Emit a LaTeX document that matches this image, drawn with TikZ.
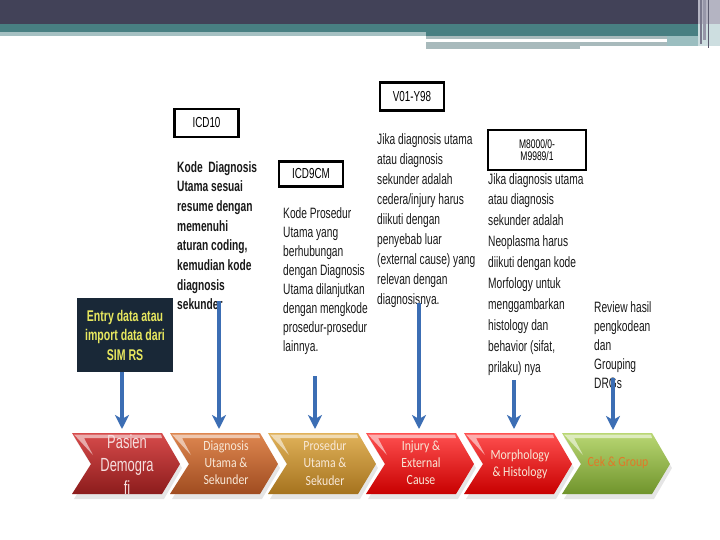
\documentclass[tikz,border=0pt]{standalone}
\usepackage{fontspec}
\setmainfont{Liberation Sans}
\newfontfamily\nar[FakeStretch=0.68]{Liberation Sans}
\newfontfamily\carl[FakeStretch=0.84]{Carlito}
\usetikzlibrary{arrows.meta}
\definecolor{hdark}{RGB}{66,66,88}
\definecolor{hteal}{RGB}{72,127,130}
\definecolor{hlight}{RGB}{165,192,194}
\definecolor{hgray}{RGB}{168,186,188}
\definecolor{hpale}{RGB}{155,190,192}
\definecolor{hr1}{RGB}{180,180,194}
\definecolor{hr2}{RGB}{205,222,224}
\definecolor{hr3}{RGB}{120,120,140}
\definecolor{hr4}{RGB}{150,150,168}
\definecolor{hr5}{RGB}{90,90,110}
\definecolor{arrowblue}{RGB}{60,110,180}
\definecolor{entryfill}{RGB}{25,40,55}
\definecolor{entrytext}{RGB}{232,232,95}
\definecolor{txt}{RGB}{25,25,25}
\definecolor{cAt}{RGB}{215,75,75}\definecolor{cAm}{RGB}{180,38,40}\definecolor{cAb}{RGB}{140,28,28}
\definecolor{cBt}{RGB}{222,135,80}\definecolor{cBm}{RGB}{196,98,46}\definecolor{cBb}{RGB}{160,76,32}
\definecolor{cCt}{RGB}{225,178,90}\definecolor{cCm}{RGB}{200,145,46}\definecolor{cCb}{RGB}{165,115,30}
\definecolor{cDt}{RGB}{255,80,80}\definecolor{cDm}{RGB}{240,10,10}\definecolor{cDb}{RGB}{200,0,0}
\definecolor{cFt}{RGB}{185,215,115}\definecolor{cFm}{RGB}{141,180,60}\definecolor{cFb}{RGB}{112,148,44}
\definecolor{chtxt}{RGB}{248,232,215}
\definecolor{chtxtA}{RGB}{245,222,222}
\definecolor{cekorange}{RGB}{225,120,40}
\tikzset{
  desc/.style={anchor=north west, inner sep=0pt, align=left, text=txt},
  codebox/.style={draw=black, line width=2.3pt, fill=white, inner sep=0pt, align=center,
    font=\nar\fontsize{14.5}{13}\selectfont},
  chtext/.style={align=center, inner sep=0pt, text=chtxt, font=\carl\fontsize{14}{17.2}\selectfont},
  arr/.style={draw=arrowblue, line width=3.2pt, -{Stealth[length=14pt,width=14pt,inset=4pt]}},
}
\begin{document}
\begin{tikzpicture}[x=1pt,y=-1pt]
\useasboundingbox (0,0) rectangle (720,540);
\fill[white] (0,0) rectangle (720,540);
% header
\fill[hdark] (0,0) rectangle (698,24);
\fill[hteal] (0,24) rectangle (698,32);
\fill[hteal] (426,32) rectangle (698,36);
\fill[hlight] (0,32) rectangle (426,36);
\fill[hgray] (426,36) rectangle (667,39);
\fill[hgray] (426,42) rectangle (580,49);
\fill[hgray] (580,42) rectangle (667,46);
\fill[hpale] (667,36) rectangle (698,46);
\fill[hr1] (698,0) rectangle (720,24);
\fill[hr2] (698,24) rectangle (720,46);
\fill[hr3] (700,0) rectangle (702,44);
\fill[hr4] (703,0) rectangle (706,40);
\fill[hr5] (708,0) rectangle (709,48);

% chevrons
\foreach \i/\ct/\cm/\cb in {0/cAt/cAm/cAb,1/cBt/cBm/cBb,2/cCt/cCm/cCb,3/cDt/cDm/cDb,4/cDt/cDm/cDb,5/cFt/cFm/cFb}{
  \pgfmathsetmacro{\xo}{72+98*\i}
  \fill[black,opacity=0.10] (\xo+2,437) -- (\xo+92,437) -- (\xo+110,468) -- (\xo+92,499) -- (\xo+2,499) -- (\xo+21,468) -- cycle;
  \shade[top color=\ct, middle color=\cm, bottom color=\cb]
    (\xo,433) -- (\xo+90,433) -- (\xo+108,464) -- (\xo+90,494) -- (\xo,494) -- (\xo+19,464) -- cycle;
  \fill[white,opacity=0.55] (\xo+2,434.5) -- (\xo+89,434.5) -- (\xo+90,438) -- (\xo+12,438) -- (\xo+21,455) -- cycle;
}
\node[chtext, font=\nar\fontsize{19}{23}\selectfont, text=chtxtA] (c1) at (127,465) {Pasien\\Demogra\\fi};
\node[chtext] (c2) at (226,463) {Diagnosis\\Utama \&\\Sekunder};
\node[chtext] (c3) at (325,463) {Prosedur\\Utama \&\\Sekuder};
\node[chtext] (c4) at (421,463) {Injury \&\\External\\Cause};
\node[chtext] (c5) at (520,464) {Morphology\\\& Histology};
\node[chtext, text=cekorange] (c6) at (618,463) {Cek \& Group};

% code boxes
\node[codebox, minimum width=64pt, minimum height=28pt] (icd10) at (206.5,123) {ICD10};
\node[codebox, minimum width=64pt, minimum height=25pt] (icd9) at (311,174) {ICD9CM};
\node[codebox, minimum width=64pt, minimum height=28pt] (vy) at (412,96.5) {V01-Y98};
\node[codebox, minimum width=98pt, minimum height=40pt, font=\nar\fontsize{12.5}{12.5}\selectfont] (morph) at (537,150) {M8000/0-\\M9989/1};

% entry box
\node[fill=entryfill, minimum width=96pt, minimum height=74pt, inner sep=0pt, align=center,
  text=entrytext, font=\nar\bfseries\fontsize{15.5}{19.5}\selectfont] (entry) at (125,335)
  {Entry data atau\\import data dari\\SIM RS};

% description texts
\node[desc, font=\nar\bfseries\fontsize{15}{19.7}\selectfont] (t1) at (177,161)
  {Kode\ \ Diagnosis\\Utama sesuai\\resume dengan\\memenuhi\\aturan coding,\\kemudian kode\\diagnosis\\sekunder};
\node[desc, font=\nar\fontsize{15}{19}\selectfont] (t2) at (283,207)
  {Kode Prosedur\\Utama yang\\berhubungan\\dengan Diagnosis\\Utama dilanjutkan\\dengan mengkode\\prosedur-prosedur\\lainnya.};
\node[desc, font=\nar\fontsize{15}{20.1}\selectfont] (t3) at (377,133)
  {Jika diagnosis utama\\atau diagnosis\\sekunder adalah\\cedera/injury harus\\diikuti dengan\\penyebab luar\\(external cause) yang\\relevan dengan\\diagnosisnya.};
\node[desc, font=\nar\fontsize{15}{20.9}\selectfont] (t4) at (488,173)
  {Jika diagnosis utama\\atau diagnosis\\sekunder adalah\\Neoplasma harus\\diikuti dengan kode\\Morfology untuk\\menggambarkan\\histology dan\\behavior (sifat,\\prilaku) nya};
\node[desc, font=\nar\fontsize{15}{19}\selectfont] (t5) at (594,301)
  {Review hasil\\pengkodean\\dan\\Grouping\\DRGs};

% arrows
\coordinate (s1) at (122,372); \coordinate (e1) at (122,429);
\coordinate (s2) at (219,301); \coordinate (e2) at (219,429);
\coordinate (s3) at (315,376); \coordinate (e3) at (315,429);
\coordinate (s4) at (419,303); \coordinate (e4) at (419,429);
\coordinate (s5) at (514,380); \coordinate (e5) at (514,429);
\coordinate (s6) at (613,378); \coordinate (e6) at (613,430);
\foreach \k in {1,...,6}{ \draw[arr] (s\k) -- (e\k); }
\end{tikzpicture}
\end{document}
